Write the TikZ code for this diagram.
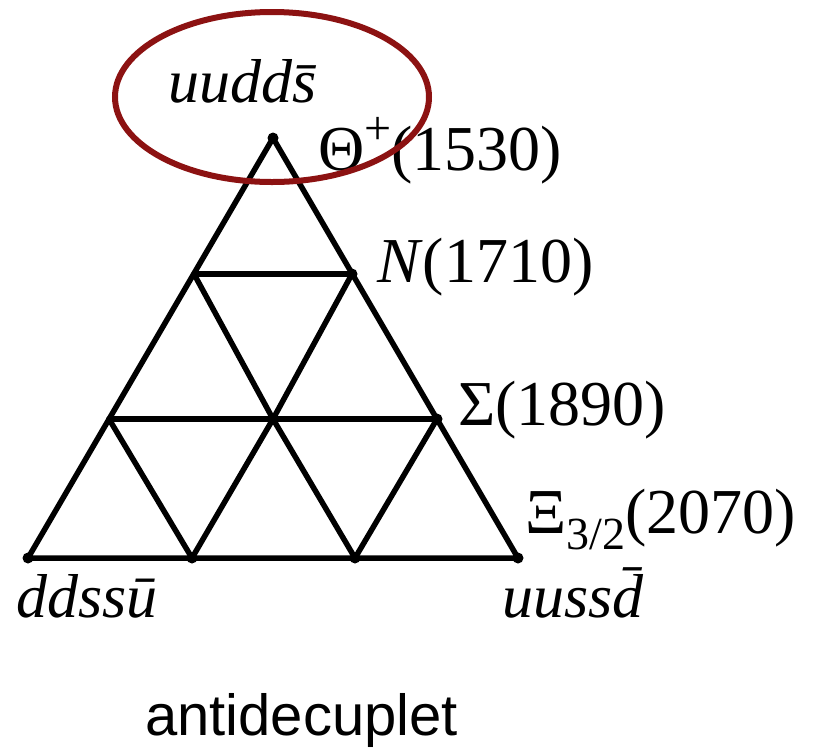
\documentclass[tikz,border=0pt]{standalone}
\usepackage{fontspec}
\setmainfont{Liberation Serif}
\setsansfont{Liberation Sans}
\definecolor{ringred}{RGB}{140,18,18}
\begin{document}
\begin{tikzpicture}[x=1pt,y=-1pt,
  grid/.style={line width=5.5pt,line cap=round,line join=round},
  vdot/.style={circle,fill=black,inner sep=0pt,minimum size=11pt},
  lbl/.style={anchor=base west,inner sep=0pt,font=\fontsize{64}{72}\selectfont},
  qlbl/.style={anchor=base west,inner sep=0pt,font=\fontsize{62}{70}\selectfont\itshape},
  captionlbl/.style={anchor=base west,inner sep=0pt,font=\sffamily\fontsize{58}{66}\selectfont}]
\useasboundingbox (0,0) rectangle (818,748);
% vertices
\coordinate (A) at (273,138);
\coordinate (N1) at (194,274);
\coordinate (N2) at (352,274);
\coordinate (S1) at (109,419);
\coordinate (S2) at (273,419);
\coordinate (S3) at (437,419);
\coordinate (B1) at (28,558);
\coordinate (B2) at (192,558);
\coordinate (B3) at (355,558);
\coordinate (B4) at (518,558);
% grid
\draw[grid] (A) -- (B1) -- (B4) -- cycle;
\draw[grid] (N1) -- (N2);
\draw[grid] (S1) -- (S3);
\draw[grid] (N1) -- (S2) -- (B3);
\draw[grid] (N2) -- (S2) -- (B2);
\draw[grid] (S1) -- (B2);
\draw[grid] (S3) -- (B3);
\foreach \p in {A,N2,S3,B1,B2,B3,B4} \node[vdot] at (\p) {};
% labels
\node[lbl] (theta) at (318,170) {Θ\raisebox{26pt}{\fontsize{48}{50}\selectfont +}(1530)};
\node[lbl] (nuc) at (377,282) {\textit{N}(1710)};
\node[lbl] (sig) at (458,425) {Σ(1890)};
\node[lbl] (xi) at (525,533) {Ξ\raisebox{-16pt}{\fontsize{46}{50}\selectfont 3/2}(2070)};
\node[qlbl] (top) at (168,102) {uudd\=s};
\node[qlbl] (bl) at (16,617) {ddss\=u};
\node[qlbl] (br) at (502,617) {uuss\=d};
\node[captionlbl] (name) at (145,735) {antidecuplet};
% ring
\draw[ringred,line width=6pt] (272,97) ellipse [x radius=157,y radius=85];
\end{tikzpicture}
\end{document}
